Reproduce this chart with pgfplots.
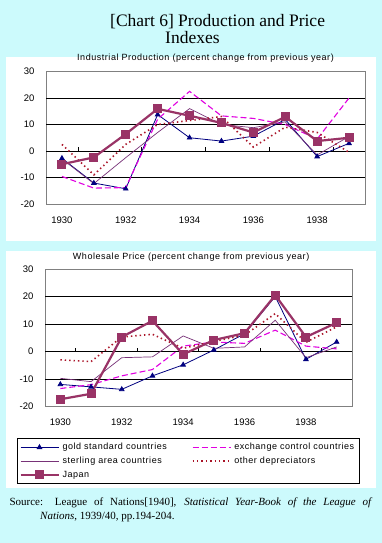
\documentclass[border=0pt]{standalone}
\usepackage{pgfplots}
\usepackage{pgfplotstable}
\pgfplotsset{compat=1.18}
\usepackage{fontspec}
\setmainfont{Liberation Serif}
\newfontfamily\chartfont{Liberation Sans}
\newfontfamily\chartfontsp[LetterSpace=6]{Liberation Sans}
\definecolor{bgcyan}{RGB}{204,250,252}
\definecolor{cgold}{RGB}{0,0,128}
\definecolor{cexch}{RGB}{225,0,225}
\definecolor{cster}{RGB}{120,50,120}
\definecolor{cother}{RGB}{170,20,40}
\definecolor{cjapan}{RGB}{153,51,102}
\definecolor{cframe}{RGB}{128,128,128}

\pgfplotstableread{
year gold exch ster other japan
1930 -2.75 -9.6 -3.0 2.5 -5.0
1931 -12.1 -14.0 -12.3 -9.0 -2.4
1932 -14.25 -13.8 -2.5 2.5 6.4
1933 13.75 12.0 7.0 10.0 15.9
1934 5.0 22.5 16.0 11.5 13.3
1935 3.75 13.25 10.0 13.0 10.6
1936 5.6 12.3 8.8 1.5 7.0
1937 11.9 10.0 11.0 9.0 12.9
1938 -2.1 4.5 -1.5 7.0 3.75
1939 2.9 20.0 5.5 -0.5 5.0
}\topdata

\pgfplotstableread{
year gold exch ster other japan
1930 -11.9 -13.4 -9.7 -3.0 -17.3
1931 -12.8 -12.0 -10.9 -3.6 -15.3
1932 -13.7 -8.8 -2.2 5.3 5.3
1933 -8.8 -6.5 -1.9 6.3 11.2
1934 -4.8 2.0 5.7 1.2 -1.0
1935 0.6 3.5 1.2 3.7 4.2
1936 6.5 3.0 1.7 6.0 6.7
1937 20.0 7.8 11.4 13.8 20.5
1938 -2.8 2.0 -2.2 3.4 5.3
1939 3.5 1.0 1.7 9.0 10.5
}\botdata

\pgfplotsset{
  mychart/.style={
    scale only axis, anchor=south west,
    xmin=1929.5, xmax=1939.5, ymin=-20, ymax=30,
    ytick={-20,-10,0,10,20,30},
    xtick={1930,1932,1934,1936,1938},
    xticklabels={1930,1932,1934,1936,1938},
    major tick length=0pt,
    axis line style={cframe, line width=0.7pt},
    tick label style={font=\chartfont\fontsize{9.5}{11}\selectfont},
    /pgf/number format/assume math mode=true,
    yticklabel style={xshift=-8pt},
    xticklabel style={yshift=-9pt},
    title style={font=\chartfontsp\fontsize{9}{10}\selectfont},
    legend image code/.code={\draw[mark repeat=2,mark phase=2,##1] plot coordinates {(0pt,0pt) (19pt,0pt) (38pt,0pt)};},
  },
  sgold/.style={color=cgold, line width=0.8pt, mark=triangle*, mark size=2.6pt, mark options={solid}},
  sexch/.style={color=cexch, line width=1.1pt, dash pattern=on 6pt off 3pt, no markers},
  sster/.style={color=cster, line width=0.7pt, no markers},
  sother/.style={color=cother, line width=1.6pt, dash pattern=on 1.4pt off 3pt, no markers},
  sjapan/.style={color=cjapan, line width=2.2pt, mark=square*, mark size=3.4pt, mark options={solid}},
}

\newcommand{\grids}{%
  \draw[black, line width=0.8pt] (axis cs:1929.5,-10) -- (axis cs:1939.5,-10);
  \draw[black, line width=0.8pt] (axis cs:1929.5,10) -- (axis cs:1939.5,10);
  \draw[black, line width=0.8pt] (axis cs:1929.5,20) -- (axis cs:1939.5,20);
  \draw[black, line width=0.8pt] (axis cs:1929.5,0) -- (axis cs:1939.5,0);
  \draw[black, line width=0.8pt] (axis cs:1930.5,0) -- ++(0pt,4pt);
  \draw[black, line width=0.8pt] (axis cs:1932.5,0) -- ++(0pt,4pt);
  \draw[black, line width=0.8pt] (axis cs:1934.5,0) -- ++(0pt,4pt);
  \draw[black, line width=0.8pt] (axis cs:1936.5,0) -- ++(0pt,4pt);
  \draw[black, line width=0.8pt] (axis cs:1938.5,0) -- ++(0pt,4pt);
}

\begin{document}
\begin{tikzpicture}
\fill[bgcyan] (0pt,0pt) rectangle (382pt,-543pt);
\fill[white] (6pt,-57pt) rectangle (376pt,-241pt);
\fill[white] (6pt,-251pt) rectangle (376pt,-488pt);

\node[anchor=base west, font=\fontsize{17.5}{20}\selectfont, inner sep=0pt] at (110pt,-26.5pt) {[Chart 6] Production and Price};
\node[anchor=base west, font=\fontsize{17.5}{20}\selectfont, inner sep=0pt] at (165pt,-44pt) {Indexes};

\begin{axis}[mychart, at={(46pt,-204pt)}, width=319pt, height=132.5pt,
  title={Industrial Production (percent change from previous year)}]
\grids
\addplot[sgold] table[x=year,y=gold] {\topdata};
\addplot[sexch] table[x=year,y=exch] {\topdata};
\addplot[sster] table[x=year,y=ster] {\topdata};
\addplot[sother] table[x=year,y=other] {\topdata};
\addplot[sjapan] table[x=year,y=japan] {\topdata};
\end{axis}

\begin{axis}[mychart, at={(45pt,-406.7pt)}, width=307pt, height=137.7pt,
  title={Wholesale Price (percent change from previous year)},
  title style={at={(0.476,1)}, yshift=-1.5pt},
  legend columns=2, legend cell align=left,
  legend style={at={(axis description cs:-0.0912,-0.2273)}, anchor=north west,
    draw=black, line width=0.8pt, fill=white,
    font=\chartfontsp\fontsize{9}{10}\selectfont,
    /tikz/every even column/.append style={column sep=22pt},
    row sep=0pt, inner sep=2pt, nodes={inner sep=2.9pt}}]
\grids
\addplot[sgold] table[x=year,y=gold] {\botdata};
\addlegendentry{gold standard countries}
\addplot[sexch] table[x=year,y=exch] {\botdata};
\addlegendentry{exchange control countries}
\addplot[sster] table[x=year,y=ster] {\botdata};
\addlegendentry{sterling area countries}
\addplot[sother] table[x=year,y=other] {\botdata};
\addlegendentry{other depreciators}
\addplot[sjapan] table[x=year,y=japan] {\botdata};
\addlegendentry{Japan}
\end{axis}

\node[anchor=base west, inner sep=0pt, font=\fontsize{11}{14}\selectfont] at (9.3pt,-505pt)
  {\makebox[363pt][s]{Source: League of Nations[1940], \textit{Statistical Year-Book of the League of}}};
\node[anchor=base west, inner sep=0pt, font=\fontsize{11}{14}\selectfont] at (40pt,-519pt)
  {\textit{Nations}, 1939/40, pp.194-204.};
\end{tikzpicture}
\end{document}
